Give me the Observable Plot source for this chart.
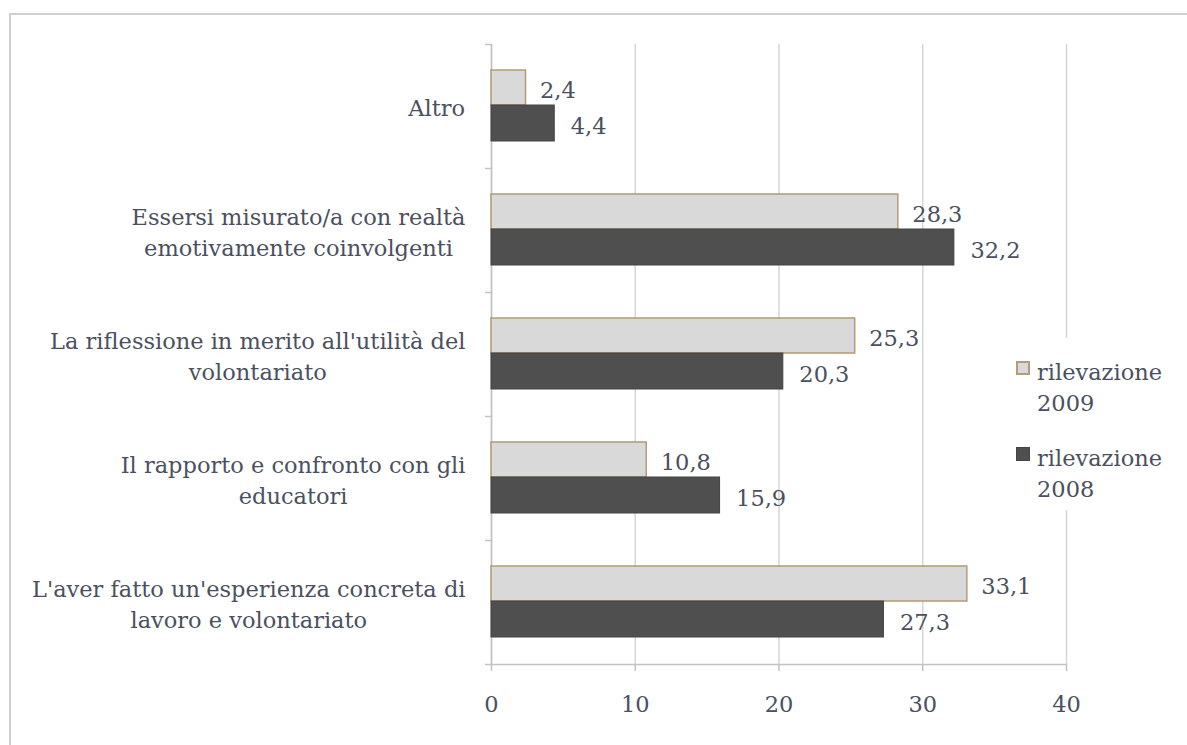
<!DOCTYPE html>
<html>
<head>
<meta charset="utf-8">
<script src="https://cdn.jsdelivr.net/npm/d3@7"></script>
<script src="https://cdn.jsdelivr.net/npm/@observablehq/plot@0.6"></script>
<style>
  body { margin: 0; background: #fff; }
  #wrap { position: relative; width: 1187px; height: 745px; overflow: hidden; font-family: "DejaVu Serif", serif; }
  #border { position: absolute; left: 9px; top: 13px; width: 1300px; height: 900px; border: 2px solid #cfcfcf; box-sizing: border-box; }
  #chart { position: absolute; left: 0; top: 0; }
  #legend { position: absolute; left: 1010px; top: 338px; width: 170px; height: 172px; background: #fff; color: #4b5060; font-size: 22.5px; line-height: 31px; padding-top: 18.5px; box-sizing: border-box; }
  .item { position: relative; padding-left: 27px; margin-bottom: 24px; }
  .sw { position: absolute; left: 6px; top: 4px; width: 14px; height: 14px; box-sizing: border-box; }
</style>
</head>
<body>
<div id="wrap">
  <div id="border"></div>
  <div id="chart"></div>
  <div id="legend"></div>
</div>
<script>
// ---- data ----
const categories = [
  "Altro",
  "Essersi misurato/a con realtà\nemotivamente coinvolgenti",
  "La riflessione in merito all'utilità del\nvolontariato",
  "Il rapporto e confronto con gli\neducatori",
  "L'aver fatto un'esperienza concreta di\nlavoro e volontariato"
];
const seriesNames = ["rilevazione\n2009", "rilevazione\n2008"];
const values2009 = [2.4, 28.3, 25.3, 10.8, 33.1];
const values2008 = [4.4, 32.2, 20.3, 15.9, 27.3];
const xTicks = [0, 10, 20, 30, 40];

// ---- styles ----
const textColor = "#4b5060";
const fill2009 = "#d9d9d9", stroke2009 = "#b39b77";
const fill2008 = "#4f4f4f", stroke2008 = "#444444";
const gridColor = "#d6d6d6", axisColor = "#c2c2c2";
const fs = 22.5;

const rows = categories.map((c, i) => ({category: c, v2009: values2009[i], v2008: values2008[i]}));
const itFormat = d3.formatLocale({decimal: ",", thousands: ".", grouping: [3], currency: ["€", ""]}).format(".1f");
const lastCat = categories[categories.length - 1];

const chart = Plot.plot({
  width: 1187,
  height: 745,
  marginLeft: 491,
  marginRight: 121,
  marginTop: 44,
  marginBottom: 81,
  style: {fontFamily: "DejaVu Serif, serif", fontSize: fs + "px", color: textColor, background: "transparent"},
  x: {domain: [0, 40], ticks: xTicks, label: null},
  y: {domain: categories, padding: 0, label: null},
  marks: [
    Plot.gridX(xTicks, {stroke: gridColor, strokeWidth: 1.5, strokeOpacity: 1}),
    Plot.ruleX([0], {stroke: axisColor, strokeWidth: 1.5}),
    Plot.ruleY([lastCat], {dy: 62, stroke: axisColor, strokeWidth: 1.5}),
    // band boundary ticks on the category axis
    Plot.axisY({tickSize: 6, tickFormat: () => "", dy: -62, stroke: axisColor, strokeWidth: 1.5, label: null}),
    Plot.axisY([lastCat], {tickSize: 6, tickFormat: () => "", dy: 62, stroke: axisColor, strokeWidth: 1.5, label: null}),
    // category labels
    Plot.axisY({tickSize: 0, tickPadding: 26, fontSize: fs, lineHeight: 31 / fs, fill: textColor, label: null}),
    // x axis
    Plot.axisX(xTicks, {tickSize: 7, tickPadding: 25, fontSize: fs, stroke: axisColor, strokeWidth: 1.5, fill: textColor, label: null}),
    // bars
    Plot.barX(rows, {x: "v2009", y: "category", fill: fill2009, stroke: stroke2009, strokeWidth: 1.5, insetTop: 26, insetBottom: 63}),
    Plot.barX(rows, {x: "v2008", y: "category", fill: fill2008, stroke: stroke2008, strokeWidth: 1, insetTop: 61, insetBottom: 27}),
    // value labels
    Plot.text(rows, {x: "v2009", y: "category", text: d => itFormat(d.v2009), textAnchor: "start", dx: 14, dy: -16, fontSize: fs, fill: textColor}),
    Plot.text(rows, {x: "v2008", y: "category", text: d => itFormat(d.v2008), textAnchor: "start", dx: 16, dy: 20, fontSize: fs, fill: textColor})
  ]
});
document.getElementById("chart").appendChild(chart);

// center the lines of each multi-line category label within its block (right-aligned block)
chart.querySelectorAll('g[aria-label="y-axis tick label"] text').forEach(t => {
  const w = t.getBBox().width;
  t.setAttribute("text-anchor", "middle");
  const tr = t.getAttribute("transform") || "";
  t.setAttribute("transform", tr + ` translate(${-w / 2},0)`);
});

// legend
const legend = document.getElementById("legend");
const swatches = [
  {fill: fill2009, border: `2px solid ${stroke2009}`},
  {fill: fill2008, border: `1px solid ${stroke2008}`}
];
seriesNames.forEach((name, i) => {
  const item = document.createElement("div");
  item.className = "item";
  const sw = document.createElement("span");
  sw.className = "sw";
  sw.style.background = swatches[i].fill;
  sw.style.border = swatches[i].border;
  item.appendChild(sw);
  name.split("\n").forEach(line => {
    const l = document.createElement("div");
    l.textContent = line;
    item.appendChild(l);
  });
  legend.appendChild(item);
});
</script>
</body>
</html>
